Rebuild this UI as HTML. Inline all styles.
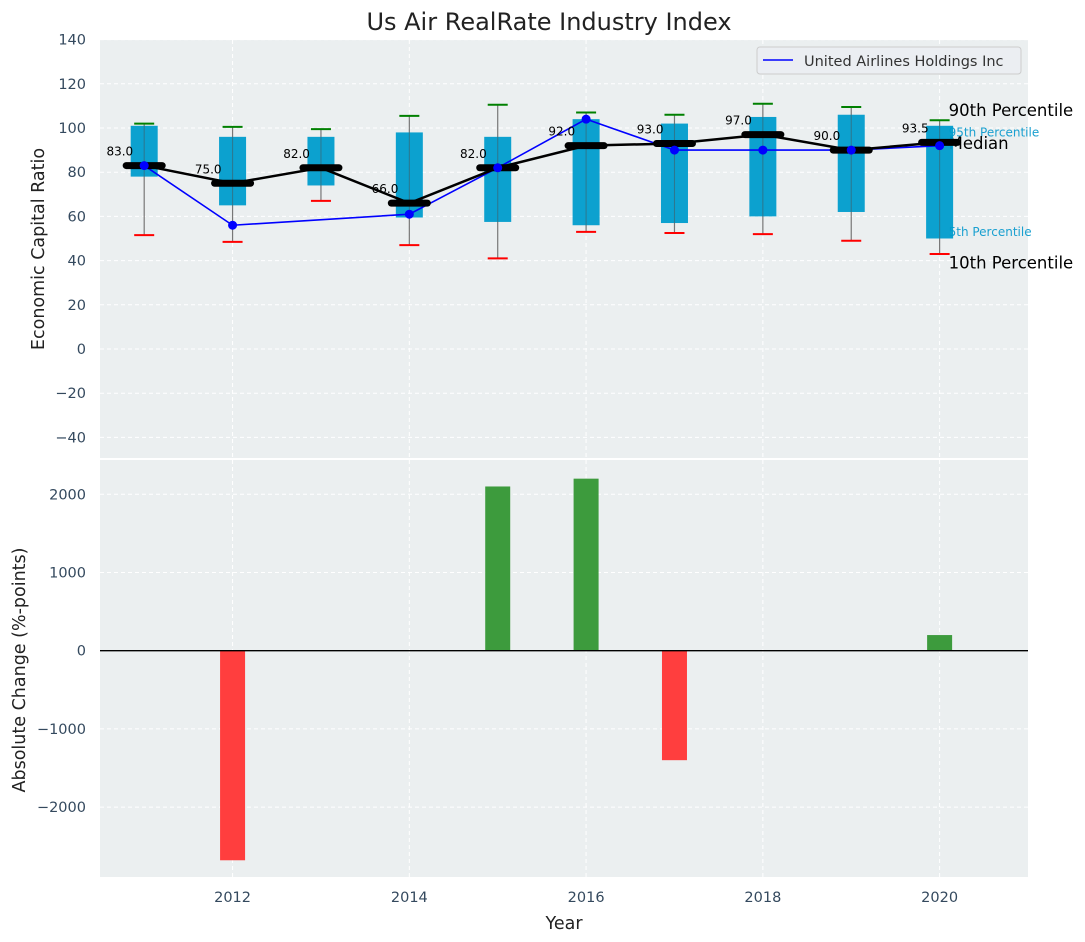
<!DOCTYPE html>
<html><head><meta charset="utf-8"><style>
body{margin:0;background:#fff;}
svg{display:block;font-family:"DejaVu Sans","Liberation Sans",sans-serif;}
</style></head><body>
<svg id="chart" width="1085" height="942" xmlns="http://www.w3.org/2000/svg"></svg>
<script>
const years=[2011,2012,2013,2014,2015,2016,2017,2018,2019,2020];
const p95=[101,96,96,98,96,104,102,105,106,101];
const p5=[78,65,74,59.5,57.5,56,57,60,62,50];
const p90=[102,100.5,99.5,105.5,110.5,107,106,111,109.5,103.5];
const p10=[51.5,48.5,67,47,41,53,52.5,52,49,43];
const medians=[83,75,82,66,82,92,93,97,90,93.5];
const uaValues=[83,56,null,61,82,104,90,90,90,92];
const changes=[0,-2680,0,0,2100,2200,-1400,0,0,200];
const topTicks=[-40,-20,0,20,40,60,80,100,120,140];
const botTicks=[-2000,-1000,0,1000,2000];
const xTicks=[2012,2014,2016,2018,2020];

const NS="http://www.w3.org/2000/svg";
const svg=document.getElementById('chart');
function mk(tag,attrs,parent,text){const e=document.createElementNS(NS,tag);for(const k in attrs)e.setAttribute(k,attrs[k]);if(text!==undefined)e.textContent=text;(parent||svg).appendChild(e);return e;}
const L=100,R=1028;
const x=v=>L+(v-2010.5)/(2021.0-2010.5)*(R-L);
const yT=v=>349-v*2.21;
const yB=v=>650.7-v*0.0782;
const TOP0=40,TOP1=458,BOT0=460,BOT1=877;

let t=mk('text',{x:549,y:30,'text-anchor':'middle','font-size':24,fill:'#222'},svg,'Us Air RealRate Industry Index');


let bg=mk('rect',{x:L,y:TOP0,width:R-L,height:TOP1-TOP0,fill:'#ebeff0'});

let bg2=mk('rect',{x:L,y:BOT0,width:R-L,height:BOT1-BOT0,fill:'#ebeff0'});


for(const v of topTicks){
  mk('line',{x1:L,x2:R,y1:yT(v),y2:yT(v),stroke:'#fff','stroke-dasharray':'4,3','stroke-width':1});
  let tl=mk('text',{x:L-14,y:yT(v)+5,'text-anchor':'end','font-size':14.5,fill:'#34495e'},svg,String(v).replace('-','\u2212'));
  
}
for(const v of botTicks){
  mk('line',{x1:L,x2:R,y1:yB(v),y2:yB(v),stroke:'#fff','stroke-dasharray':'4,3','stroke-width':1});
  let tl=mk('text',{x:L-14,y:yB(v)+5,'text-anchor':'end','font-size':14.5,fill:'#34495e'},svg,String(v).replace('-','\u2212'));
  
}
for(const v of xTicks){
  mk('line',{x1:x(v),x2:x(v),y1:TOP0,y2:TOP1,stroke:'#fff','stroke-dasharray':'4,3','stroke-width':1});
  mk('line',{x1:x(v),x2:x(v),y1:BOT0,y2:BOT1,stroke:'#fff','stroke-dasharray':'4,3','stroke-width':1});
  let tl=mk('text',{x:x(v),y:BOT1+25,'text-anchor':'middle','font-size':14.5,fill:'#34495e'},svg,String(v));
  
}

const rl=[['90th Percentile',108,16.5,'#000'],['95th Percentile',98,12,'#1aa0d0'],['Median',93,16.5,'#000'],['5th Percentile',53,12,'#1aa0d0'],['10th Percentile',39,16.5,'#000']];
for(const [s,v,fs,c] of rl){
  let e=mk('text',{x:x(2020)+9,y:yT(v)+fs*0.35,'font-size':fs,fill:c},svg,s);
  
}

years.forEach((yr,i)=>{
  const cx=x(yr);
  let w=mk('line',{x1:cx,x2:cx,y1:yT(p90[i]),y2:yT(p10[i]),stroke:'#777','stroke-width':1.2});
  
  let b=mk('rect',{x:cx-13.5,y:yT(p95[i]),width:27,height:yT(p5[i])-yT(p95[i]),fill:'#009ccc','fill-opacity':0.95});
  
  mk('line',{x1:cx,x2:cx,y1:yT(p95[i]),y2:yT(p5[i]),stroke:'#555','stroke-width':1,'stroke-opacity':0.5});
  let c1=mk('line',{x1:cx-10,x2:cx+10,y1:yT(p90[i]),y2:yT(p90[i]),stroke:'green','stroke-width':2});
  
  let c2=mk('line',{x1:cx-10,x2:cx+10,y1:yT(p10[i]),y2:yT(p10[i]),stroke:'red','stroke-width':2});
  
});

let pts=[];years.forEach((yr,i)=>{if(uaValues[i]!==null)pts.push(x(yr)+','+yT(uaValues[i]));});
let ua=mk('polyline',{points:pts.join(' '),fill:'none',stroke:'blue','stroke-width':1.6});


let mp=years.map((yr,i)=>x(yr)+','+yT(medians[i])).join(' ');
let ml=mk('polyline',{points:mp,fill:'none',stroke:'#000','stroke-width':2.5});

years.forEach((yr,i)=>{
  const cx=x(yr),cy=yT(medians[i]);
  let m=mk('line',{x1:cx-18,x2:cx+18,y1:cy,y2:cy,stroke:'#000','stroke-width':7,'stroke-linecap':'round'});
  
  let lb=mk('text',{x:cx-11,y:cy-10,'text-anchor':'end','font-size':12,fill:'#000'},svg,medians[i].toFixed(1));
  
});
years.forEach((yr,i)=>{
  if(uaValues[i]===null)return;
  let d=mk('circle',{cx:x(yr),cy:yT(uaValues[i]),r:4.5,fill:'blue'});
  
});

let lg=mk('g',{});

mk('rect',{x:757,y:47,width:264,height:27,rx:3,fill:'#ebeef2',stroke:'#ccc'},lg);
mk('line',{x1:763,x2:793,y1:60,y2:60,stroke:'blue','stroke-width':1.6},lg);
mk('text',{x:804,y:66,'font-size':14.5,fill:'#333'},lg,'United Airlines Holdings Inc');

years.forEach((yr,i)=>{
  const v=changes[i];if(v===0)return;
  const y0=yB(0),y1=yB(v);
  let r=mk('rect',{x:x(yr)-12.5,y:Math.min(y0,y1),width:25,height:Math.abs(y1-y0),fill:v>0?'#3d9b3d':'#ff3e3e'});
  
});
let zl=mk('line',{x1:L,x2:R,y1:yB(0),y2:yB(0),stroke:'#000','stroke-width':1.3});


let a1=mk('text',{x:44,y:249,'text-anchor':'middle','font-size':17.5,fill:'#222',transform:'rotate(-90 44 249)'},svg,'Economic Capital Ratio');

let a2=mk('text',{x:25,y:670,'text-anchor':'middle','font-size':17.5,fill:'#222',transform:'rotate(-90 25 670)'},svg,'Absolute Change (%-points)');

let a3=mk('text',{x:564,y:929,'text-anchor':'middle','font-size':17.5,fill:'#222'},svg,'Year');

</script>
</body></html>
